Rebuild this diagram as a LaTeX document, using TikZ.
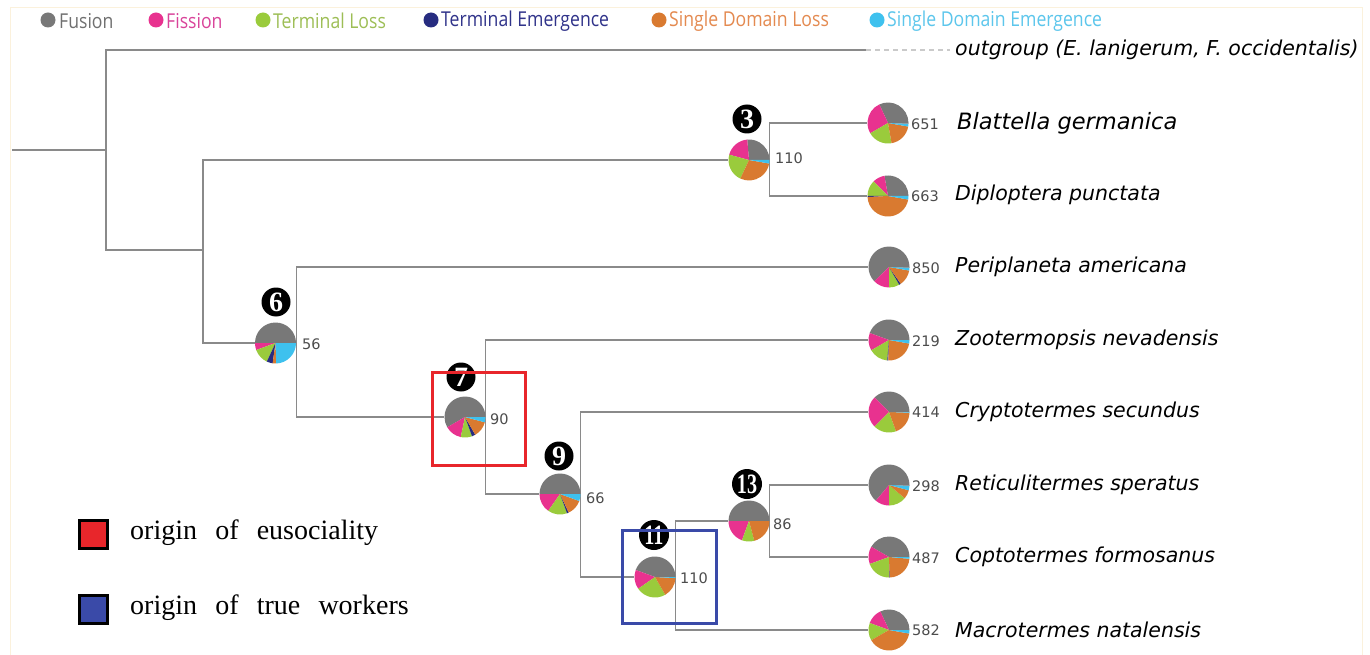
\documentclass[tikz,border=0pt]{standalone}
\usepackage{fontspec}
\usepackage{graphicx}
\setmainfont{Liberation Serif}
\newfontfamily\condf[FakeStretch=0.86]{Open Sans}
\newfontfamily\spf{DejaVu Sans}
\definecolor{cFus}{HTML}{787878}
\definecolor{cFis}{HTML}{E8328F}
\definecolor{cTL}{HTML}{9ACB3C}
\definecolor{cTE}{HTML}{272C80}
\definecolor{cSDL}{HTML}{D97A30}
\definecolor{cSDE}{HTML}{3EC1EE}
\definecolor{tFus}{HTML}{707070}
\definecolor{tFis}{HTML}{D9449A}
\definecolor{tTL}{HTML}{9DBE55}
\definecolor{tTE}{HTML}{30338A}
\definecolor{tSDL}{HTML}{E48A50}
\definecolor{tSDE}{HTML}{5CC6EC}
\definecolor{branch}{HTML}{8A8A8A}
\definecolor{redbox}{HTML}{E8262B}
\definecolor{bluebox}{HTML}{3A4AA8}
\definecolor{frame}{HTML}{FBF1DC}
\newcommand\drawpie[2]{\foreach \a/\b/\c in {#2}{\fill[\c] (#1.center) -- ++(\a:20.5pt) arc[start angle=\a,end angle=\b,radius=20.5pt] -- cycle;}}
\begin{document}
\begin{tikzpicture}[x=1pt,y=-1pt,
  pie/.style={circle,inner sep=0pt,minimum size=41pt},
  br/.style={draw=branch,line width=1.4pt},
  numc/.style={circle,fill=black,text=white,inner sep=0pt,minimum size=29pt,font=\fontsize{28}{28}\selectfont\bfseries},
  cnt/.style={anchor=west,inner sep=0pt,text=black!70,font=\spf\fontsize{14.5}{14.5}\selectfont},
  sp/.style={anchor=west,inner sep=0pt,font=\spf\itshape\fontsize{20.5}{20.5}\selectfont},
  leg/.style={anchor=west,inner sep=0pt,font=\condf\fontsize{20.5}{20.5}\selectfont},
  dot/.style={circle,inner sep=0pt,minimum size=15pt},
  lsq/.style={draw=black,line width=3pt,minimum size=28pt,inner sep=0pt},
  ltxt/.style={anchor=west,inner sep=0pt,font=\fontsize{28}{28}\selectfont}]
\useasboundingbox (0,0) rectangle (1370,655);
\fill[white] (0,0) rectangle (1370,655);
\draw[frame,line width=1pt] (10,8) rectangle (1362,660);
% legend top
\node[dot,fill=cFus] (d1) at (48,20) {};
\node[leg,text=tFus] (l1) at (59,21) {Fusion};
\node[dot,fill=cFis] (d2) at (156,20) {};
\node[leg,text=tFis] (l2) at (166,21) {Fission};
\node[dot,fill=cTL] (d3) at (263,20) {};
\node[leg,text=tTL] (l3) at (273,21) {Terminal Loss};
\node[dot,fill=cTE] (d4) at (431,20) {};
\node[leg,text=tTE] (l4) at (441,21) {Terminal Emergence};
\node[dot,fill=cSDL] (d5) at (659,20) {};
\node[leg,text=tSDL] (l5) at (669,21) {Single Domain Loss};
\node[dot,fill=cSDE] (d6) at (877,20) {};
\node[leg,text=tSDE] (l6) at (887,21) {Single Domain Emergence};
% pies
\node[pie] (p3) at (749,160) {};
\node[pie] (p6) at (275.5,343) {};
\node[pie] (p7) at (465,417) {};
\node[pie] (p9) at (560,494) {};
\node[pie] (p11) at (655,577) {};
\node[pie] (p13) at (749,521) {};
\node[pie] (q651) at (888,123) {};
\node[pie] (q663) at (888,196) {};
\node[pie] (q850) at (889,267) {};
\node[pie] (q219) at (889,340) {};
\node[pie] (q414) at (889,412) {};
\node[pie] (q298) at (889,485) {};
\node[pie] (q487) at (889,557) {};
\node[pie] (q582) at (889,630) {};
% tree
\coordinate (root) at (12,150);
\coordinate (j0) at (106,150);
\coordinate (j1) at (203,250);
\coordinate (og) at (866,50);
\coordinate (ogd) at (950,50);
\draw[br] (root) -- (j0);
\draw[br] (j0) |- (og);
\draw[branch!45,line width=1.4pt,dash pattern=on 5pt off 4pt] (og) -- (ogd);
\draw[br] (j0) |- (j1);
\draw[br] (j1) |- (p3.west);
\draw[br] (j1) |- (p6.west);
\draw[br] (p3.east) |- (q651.west);
\draw[br] (p3.east) |- (q663.west);
\draw[br] (p6.east) |- (q850.west);
\draw[br] (p6.east) |- (p7.west);
\draw[br] (p7.east) |- (q219.west);
\draw[br] (p7.east) |- (p9.west);
\draw[br] (p9.east) |- (q414.west);
\draw[br] (p9.east) |- (p11.west);
\draw[br] (p11.east) |- (p13.west);
\draw[br] (p11.east) |- (q582.west);
\draw[br] (p13.east) |- (q298.west);
\draw[br] (p13.east) |- (q487.west);
% pie slices
\drawpie{p3}{0/95/cFus,95/165/cFis,165/245/cTL,245/350/cSDL,350/360/cSDE}
\drawpie{q651}{0/115/cFus,115/210/cFis,210/280/cTL,280/350/cSDL,350/358/cSDE,358/360/cFus}
\drawpie{q663}{0/100/cFus,100/135/cFis,135/180/cTL,180/183/cTE,183/350/cSDL,350/360/cSDE}
\drawpie{p6}{0/180/cFus,180/200/cFis,200/245/cTL,245/262/cTE,262/272/cSDL,272/360/cSDE}
\drawpie{q850}{0/224/cFus,224/270/cFis,270/300/cTL,300/305/cTE,305/350/cSDL,350/358/cSDE,358/360/cFus}
\drawpie{q219}{0/160/cFus,160/210/cFis,210/265/cTL,265/268/cTE,268/350/cSDL,350/360/cSDE}
\drawpie{p7}{0/210/cFus,210/258/cFis,258/290/cTL,290/300/cTE,300/345/cSDL,345/360/cSDE}
\drawpie{q414}{0/135/cFus,135/225/cFis,225/290/cTL,290/358/cSDL,358/360/cSDE}
\drawpie{p9}{0/180/cFus,180/235/cFis,235/290/cTL,290/295/cTE,295/340/cSDL,340/360/cSDE}
\drawpie{q298}{0/230/cFus,230/270/cFis,270/320/cTL,320/345/cSDL,345/358/cSDE,358/360/cFus}
\drawpie{p11}{0/160/cFus,160/215/cFis,215/300/cTL,300/357/cSDL,357/360/cSDE}
\drawpie{p13}{0/180/cFus,180/250/cFis,250/285/cTL,285/360/cSDL}
\drawpie{q487}{0/150/cFus,150/200/cFis,200/270/cTL,270/272/cTE,272/355/cSDL,355/360/cSDE}
\drawpie{q582}{0/115/cFus,115/160/cFis,160/210/cTL,210/350/cSDL,350/360/cSDE}
% counts
\node[cnt] (c3) at (775,158) {110};
\node[cnt] (c6) at (302,344) {56};
\node[cnt] (c7) at (490,419) {90};
\node[cnt] (c9) at (586,498) {66};
\node[cnt] (c11) at (680,578) {110};
\node[cnt] (c13) at (773,524) {86};
\node[cnt] (c651) at (911,124) {651};
\node[cnt] (c663) at (911,196) {663};
\node[cnt] (c850) at (912,268) {850};
\node[cnt] (c219) at (912,341) {219};
\node[cnt] (c414) at (912,412) {414};
\node[cnt] (c298) at (912,486) {298};
\node[cnt] (c487) at (912,558) {487};
\node[cnt] (c582) at (912,630) {582};
% node numbers
\node[numc] (n3) at (747,119) {3};
\node[numc] (n6) at (276,302) {6};
\node[numc] (n7) at (461,377) {7};
\node[numc] (n9) at (559,456) {9};
\node[numc,minimum size=30pt] (n11) at (654,535) {\scalebox{0.72}[1]{11}};
\node[numc,minimum size=30pt] (n13) at (747,484) {\scalebox{0.72}[1]{13}};
% species
\node[sp] (s0) at (955,50) {outgroup (E. lanigerum, F. occidentalis)};
\node[sp,font=\spf\itshape\fontsize{22.5}{22.5}\selectfont] (s1) at (957,123) {Blattella germanica};
\node[sp] (s2) at (955,195) {Diploptera punctata};
\node[sp] (s3) at (955,267) {Periplaneta americana};
\node[sp] (s4) at (955,340) {Zootermopsis nevadensis};
\node[sp] (s5) at (955,412) {Cryptotermes secundus};
\node[sp] (s6) at (955,485) {Reticulitermes speratus};
\node[sp] (s7) at (955,557) {Coptotermes formosanus};
\node[sp] (s8) at (955,630) {Macrotermes natalensis};
% boxes
\node[draw=redbox,line width=3pt,minimum width=93pt,minimum height=93pt,inner sep=0pt] (rb) at (478.5,418.5) {};
\node[draw=bluebox,line width=3pt,minimum width=94pt,minimum height=93pt,inner sep=0pt] (bb) at (669,576.5) {};
% bottom legend
\node[lsq,fill=redbox] (sq1) at (93,534) {};
\node[ltxt] (t1) at (130,533) {origin\hspace{0.65em}of\hspace{0.65em}eusociality};
\node[lsq,fill=bluebox] (sq2) at (93,609) {};
\node[ltxt] (t2) at (130,608) {origin\hspace{0.65em}of\hspace{0.65em}true\hspace{0.65em}workers};
\end{tikzpicture}
\end{document}
